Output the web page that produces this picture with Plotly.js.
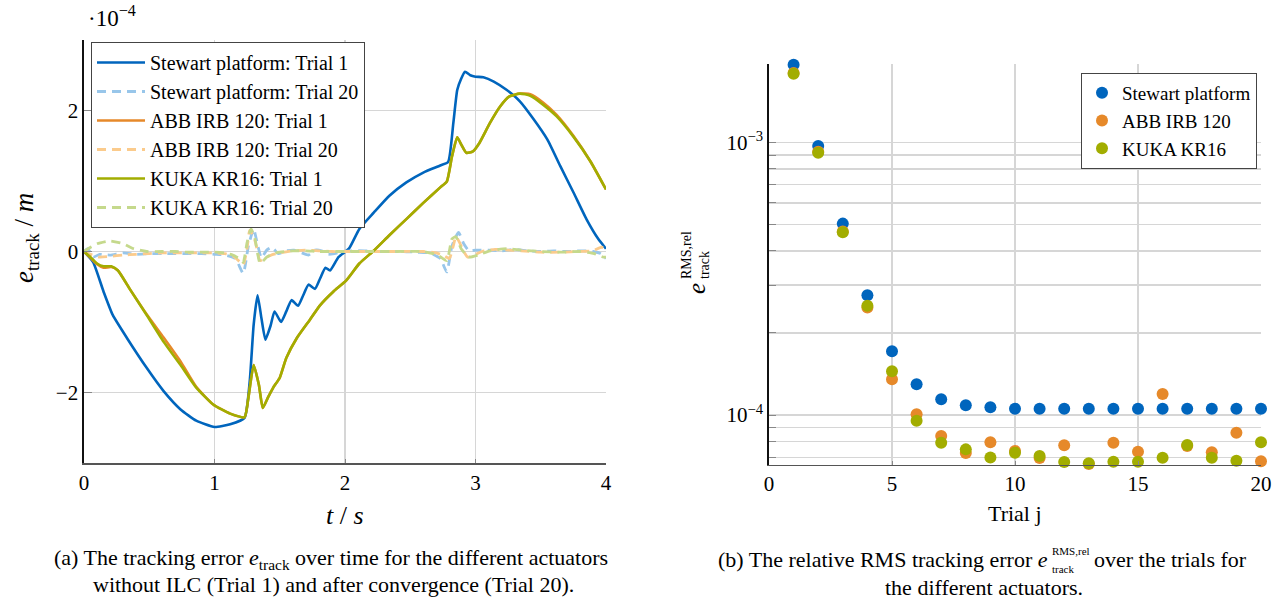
<!DOCTYPE html>
<html>
<head>
<meta charset="utf-8">
<script src="https://cdn.plot.ly/plotly-3.0.1.min.js"></script>
<style>
html,body{margin:0;padding:0;background:#fff;}
#chart{width:1282px;height:607px;}
</style>
</head>
<body>
<div id="chart"></div>
<script>
// ---------- Left panel: tracking error over time (values in 1e-4 m) ----------
const tStewart1 = [0, 0.07, 0.15, 0.22, 0.33, 0.48, 0.61, 0.74, 0.86, 1.0, 1.12, 1.23, 1.27, 1.30, 1.33, 1.36, 1.39, 1.43, 1.46, 1.51, 1.55, 1.59, 1.64, 1.68, 1.72, 1.77, 1.81, 1.85, 1.885, 1.95, 2.03, 2.11, 2.22, 2.34, 2.47, 2.60, 2.73, 2.79, 2.83, 2.86, 2.89, 2.92, 2.96, 3.0, 3.06, 3.14, 3.24, 3.34, 3.44, 3.55, 3.65, 3.75, 3.85, 3.94, 4.0];
const eStewart1 = [0, -0.15, -0.57, -0.90, -1.23, -1.65, -1.98, -2.24, -2.40, -2.49, -2.45, -2.36, -1.84, -1.04, -0.62, -0.95, -1.25, -1.05, -0.85, -1.0, -0.85, -0.69, -0.77, -0.62, -0.47, -0.53, -0.38, -0.23, -0.27, -0.08, 0.04, 0.32, 0.55, 0.79, 0.98, 1.12, 1.22, 1.27, 1.82, 2.29, 2.45, 2.55, 2.50, 2.48, 2.47, 2.41, 2.29, 2.13, 1.89, 1.59, 1.21, 0.84, 0.46, 0.18, 0.04];

const tStewart20 = [0, 0.03, 0.07, 0.12, 0.2, 0.3, 0.4, 0.5, 0.6, 0.7, 0.8, 0.9, 1.0, 1.08, 1.16, 1.22, 1.26, 1.30, 1.32, 1.36, 1.40, 1.44, 1.49, 1.55, 1.61, 1.67, 1.72, 1.77, 1.82, 1.87, 1.92, 1.98, 2.05, 2.15, 2.25, 2.35, 2.45, 2.55, 2.65, 2.73, 2.78, 2.82, 2.87, 2.91, 2.95, 3.0, 3.1, 3.2, 3.3, 3.4, 3.5, 3.6, 3.7, 3.8, 3.9, 3.96, 4.0];
const eStewart20 = [0, 0.04, -0.08, -0.04, -0.05, -0.02, -0.04, -0.03, -0.03, -0.03, -0.03, -0.03, -0.04, -0.05, -0.10, -0.31, 0.08, 0.32, 0.18, -0.09, 0.02, 0.06, -0.03, 0.01, 0.02, -0.02, -0.05, 0.02, 0.01, -0.04, -0.03, 0.0, 0.01, 0.01, 0.0, 0.0, 0.0, -0.01, -0.02, -0.10, -0.29, 0.08, 0.27, 0.11, 0.01, 0.02, 0.02, 0.01, 0.03, 0.01, 0.0, 0.01, 0.0, 0.01, 0.0, -0.03, -0.10];

const tRobot1 = [0, 0.05, 0.10, 0.15, 0.21, 0.26, 0.35, 0.48, 0.61, 0.74, 0.86, 0.99, 1.12, 1.23, 1.26, 1.30, 1.34, 1.37, 1.41, 1.45, 1.50, 1.55, 1.63, 1.73, 1.81, 1.91, 2.01, 2.11, 2.22, 2.34, 2.47, 2.60, 2.73, 2.78, 2.82, 2.86, 2.89, 2.93, 2.98, 3.03, 3.11, 3.19, 3.26, 3.34, 3.42, 3.52, 3.62, 3.75, 3.88, 4.0];
const eAbb1 = [0, -0.09, -0.18, -0.23, -0.22, -0.27, -0.53, -0.89, -1.22, -1.56, -1.92, -2.17, -2.30, -2.35, -2.07, -1.61, -1.89, -2.22, -2.07, -1.93, -1.79, -1.51, -1.23, -0.97, -0.76, -0.57, -0.41, -0.17, 0.01, 0.23, 0.46, 0.69, 0.91, 0.99, 1.35, 1.62, 1.52, 1.40, 1.42, 1.54, 1.82, 2.06, 2.20, 2.24, 2.23, 2.11, 1.94, 1.64, 1.28, 0.88];
const eKuka1 = [0, -0.08, -0.17, -0.21, -0.21, -0.27, -0.53, -0.90, -1.28, -1.61, -1.93, -2.17, -2.30, -2.35, -2.07, -1.61, -1.89, -2.22, -2.07, -1.93, -1.79, -1.51, -1.23, -0.97, -0.76, -0.57, -0.41, -0.17, 0.01, 0.23, 0.46, 0.69, 0.91, 0.99, 1.35, 1.62, 1.52, 1.40, 1.42, 1.54, 1.82, 2.06, 2.20, 2.24, 2.21, 2.08, 1.92, 1.63, 1.28, 0.88];

const tAbb20 = [0, 0.05, 0.12, 0.2, 0.3, 0.4, 0.5, 0.6, 0.7, 0.8, 0.9, 1.0, 1.08, 1.14, 1.19, 1.22, 1.25, 1.27, 1.30, 1.32, 1.35, 1.40, 1.45, 1.5, 1.6, 1.7, 1.8, 1.9, 2.0, 2.2, 2.4, 2.6, 2.7, 2.76, 2.80, 2.83, 2.85, 2.88, 2.91, 2.94, 2.98, 3.05, 3.15, 3.25, 3.35, 3.5, 3.65, 3.8, 3.9, 3.96, 4.0];
const eAbb20 = [0, -0.04, -0.08, -0.07, -0.05, -0.04, -0.03, -0.02, -0.02, -0.02, -0.02, -0.02, -0.03, -0.06, -0.14, -0.19, 0.05, 0.30, 0.22, 0.08, -0.13, -0.08, -0.04, -0.02, 0.01, 0.02, 0.01, 0.0, 0.0, 0.0, 0.0, 0.0, -0.02, -0.06, -0.10, 0.08, 0.21, 0.12, 0.0, -0.08, -0.06, 0.0, 0.03, 0.02, 0.01, -0.01, -0.01, 0.0, 0.01, 0.06, 0.05];

const tKuka20 = [0, 0.05, 0.10, 0.20, 0.30, 0.38, 0.48, 0.6, 0.7, 0.8, 0.9, 1.0, 1.08, 1.14, 1.19, 1.22, 1.25, 1.28, 1.31, 1.35, 1.40, 1.45, 1.5, 1.6, 1.7, 1.8, 1.9, 2.0, 2.2, 2.4, 2.6, 2.71, 2.78, 2.82, 2.85, 2.89, 2.95, 3.02, 3.11, 3.24, 3.35, 3.5, 3.65, 3.8, 3.91, 3.98, 4.0];
const eKuka20 = [0, 0.06, 0.11, 0.15, 0.11, 0.04, 0.0, 0.0, 0.0, -0.01, -0.01, -0.01, -0.02, -0.05, -0.10, -0.15, 0.13, 0.32, 0.18, -0.17, -0.08, -0.03, -0.01, 0.01, 0.01, 0.0, 0.0, 0.0, 0.0, 0.0, 0.0, -0.05, -0.13, 0.18, 0.21, 0.04, -0.08, -0.05, 0.01, 0.04, 0.02, 0.0, -0.01, 0.0, -0.03, -0.08, -0.08];

// ---------- Right panel: relative RMS tracking error over trials ----------
const trials = [1, 2, 3, 4, 5, 6, 7, 8, 9, 10, 11, 12, 13, 14, 15, 16, 17, 18, 19, 20];
const rmsStewart = [1.93e-3, 9.71e-4, 5.04e-4, 2.75e-4, 1.713e-4, 1.296e-4, 1.142e-4, 1.085e-4, 1.067e-4, 1.055e-4, 1.055e-4, 1.055e-4, 1.055e-4, 1.055e-4, 1.055e-4, 1.055e-4, 1.055e-4, 1.055e-4, 1.055e-4, 1.055e-4];
const rmsAbb = [1.80e-3, 9.25e-4, 4.72e-4, 2.48e-4, 1.352e-4, 1.006e-4, 8.38e-5, 7.25e-5, 7.94e-5, 7.38e-5, 6.95e-5, 7.74e-5, 6.61e-5, 7.91e-5, 7.33e-5, 1.194e-4, 7.70e-5, 7.30e-5, 8.61e-5, 6.76e-5];
const rmsKuka = [1.788e-3, 9.17e-4, 4.69e-4, 2.52e-4, 1.447e-4, 9.53e-5, 7.91e-5, 7.48e-5, 6.99e-5, 7.27e-5, 7.07e-5, 6.72e-5, 6.65e-5, 6.74e-5, 6.74e-5, 6.97e-5, 7.76e-5, 6.97e-5, 6.80e-5, 7.94e-5];

const logTickVals = [7e-5, 8e-5, 9e-5, 1e-4, 2e-4, 3e-4, 4e-4, 5e-4, 6e-4, 7e-4, 8e-4, 9e-4, 1e-3];
const logTickText = [' ', ' ', ' ', '10<sup>\u22124</sup>', ' ', ' ', ' ', ' ', ' ', ' ', ' ', ' ', '10<sup>\u22123</sup>'];

const C_BLUE = '#0065BD', C_LBLUE = '#98C6EA';
const C_ORANGE = '#E6892A', C_LORANGE = '#FBCB8C';
const C_OLIVE = '#A2AD00', C_LOLIVE = '#C5D98C';

const W = 1282, H = 607;
const px = x => x / W;
const py = y => 1 - y / H;
const SERIF = 'Liberation Serif, Times New Roman, serif';

const dashT20 = '9px,6px';
const traces = [
  {x: tStewart1, y: eStewart1, name: 'Stewart platform: Trial 1', mode: 'lines', line: {color: C_BLUE, width: 2.6, shape: 'spline', smoothing: 0.5}, xaxis: 'x', yaxis: 'y'},
  {x: tStewart20, y: eStewart20, name: 'Stewart platform: Trial 20', mode: 'lines', line: {color: C_LBLUE, width: 2.8, dash: dashT20, shape: 'spline', smoothing: 0.5}, xaxis: 'x', yaxis: 'y'},
  {x: tRobot1, y: eAbb1, name: 'ABB IRB 120: Trial 1', mode: 'lines', line: {color: C_ORANGE, width: 2.6, shape: 'spline', smoothing: 0.5}, xaxis: 'x', yaxis: 'y'},
  {x: tAbb20, y: eAbb20, name: 'ABB IRB 120: Trial 20', mode: 'lines', line: {color: C_LORANGE, width: 2.8, dash: dashT20, shape: 'spline', smoothing: 0.5}, xaxis: 'x', yaxis: 'y'},
  {x: tRobot1, y: eKuka1, name: 'KUKA KR16: Trial 1', mode: 'lines', line: {color: C_OLIVE, width: 2.6, shape: 'spline', smoothing: 0.5}, xaxis: 'x', yaxis: 'y'},
  {x: tKuka20, y: eKuka20, name: 'KUKA KR16: Trial 20', mode: 'lines', line: {color: C_LOLIVE, width: 2.8, dash: dashT20, shape: 'spline', smoothing: 0.5}, xaxis: 'x', yaxis: 'y'},
  {x: trials, y: rmsStewart, name: 'Stewart platform', mode: 'markers', marker: {color: C_BLUE, size: 12}, xaxis: 'x2', yaxis: 'y2', legend: 'legend2', cliponaxis: false},
  {x: trials, y: rmsAbb, name: 'ABB IRB 120', mode: 'markers', marker: {color: C_ORANGE, size: 12}, xaxis: 'x2', yaxis: 'y2', legend: 'legend2', cliponaxis: false},
  {x: trials, y: rmsKuka, name: 'KUKA KR16', mode: 'markers', marker: {color: C_OLIVE, size: 12}, xaxis: 'x2', yaxis: 'y2', legend: 'legend2', cliponaxis: false}
];

const gridC = '#d6d6d6';
const tickFontL = {family: SERIF, size: 21, color: '#000'};
const tickFontR = {family: SERIF, size: 21, color: '#000'};

function ann(text, x, y, opts) {
  return Object.assign({text: text, x: px(x), y: py(y), xref: 'paper', yref: 'paper', showarrow: false,
    xanchor: 'center', yanchor: 'middle', font: {family: SERIF, size: 22, color: '#000'}}, opts || {});
}

const annotations = [
  ann('\u00b710<sup>\u22124</sup>', 112, 17, {font: {family: SERIF, size: 23, color: '#000'}}),
  ann('<i>e</i><sub>track</sub> / <i>m</i>', 26, 238, {textangle: -90, font: {family: SERIF, size: 27, color: '#000'}}),
  ann('<i>t</i> / <i>s</i>', 345, 515, {font: {family: SERIF, size: 26, color: '#000'}}),
  ann('Trial j', 1015, 513, {font: {family: SERIF, size: 22, color: '#000'}}),
  ann('<i>e</i>', 696, 289, {textangle: -90, font: {family: SERIF, size: 25, color: '#000'}}),
  ann('RMS,rel', 686, 281, {textangle: -90, yanchor: 'bottom', font: {family: SERIF, size: 14, color: '#000'}}),
  ann('track', 704, 281, {textangle: -90, yanchor: 'bottom', font: {family: SERIF, size: 14, color: '#000'}}),
  ann('(a) The tracking error <i>e</i><sub>track</sub> over time for the different actuators', 331, 559),
  ann('without ILC (Trial 1) and after convergence (Trial 20).', 333, 584),
  ann('(b) The relative RMS tracking error <i>e</i>', 1050, 559, {xanchor: 'right'}),
  ann('RMS,rel', 1050, 551, {xanchor: 'left', font: {family: SERIF, size: 11, color: '#000'}}),
  ann('track', 1050, 569, {xanchor: 'left', font: {family: SERIF, size: 11, color: '#000'}}),
  ann('over the trials for', 1092, 559, {xanchor: 'left'}),
  ann('the different actuators.', 984, 587)
];

const layout = {
  width: W, height: H,
  margin: {l: 0, r: 0, t: 0, b: 0},
  paper_bgcolor: '#fff', plot_bgcolor: '#fff',
  showlegend: true,
  xaxis: {domain: [px(84), px(606)], range: [0, 4], anchor: 'y', tickvals: [0, 1, 2, 3, 4],
    showgrid: true, gridcolor: gridC, gridwidth: 1.2, zeroline: false, showline: true, linecolor: '#555', linewidth: 1.6,
    ticks: 'inside', ticklen: 4, tickcolor: '#888', tickfont: tickFontL},
  yaxis: {domain: [py(463), py(40)], range: [-3, 3], anchor: 'x', tickvals: [-2, 0, 2], ticktext: ['\u22122', '0', '2'],
    showgrid: true, gridcolor: gridC, gridwidth: 1.2, zeroline: false, showline: true, linecolor: '#111', linewidth: 1.6,
    ticks: 'inside', ticklen: 8, tickcolor: '#888', tickfont: tickFontL},
  xaxis2: {domain: [px(769), px(1261)], range: [0, 20], anchor: 'y2', tickvals: [0, 5, 10, 15, 20],
    showgrid: true, gridcolor: gridC, gridwidth: 1.2, zeroline: false, showline: true, linecolor: '#555', linewidth: 1.6,
    ticks: 'inside', ticklen: 4, tickcolor: '#888', tickfont: tickFontR},
  yaxis2: {domain: [py(464.6), py(63.8)], type: 'log', range: [-4.182, -2.711], anchor: 'x2',
    tickmode: 'array', tickvals: logTickVals, ticktext: logTickText,
    showgrid: true, gridcolor: gridC, gridwidth: 1.2, zeroline: false, showline: true, linecolor: '#111', linewidth: 1.6,
    ticks: 'inside', ticklen: 7, tickcolor: '#888', tickfont: tickFontR},
  legend: {x: px(91), y: py(42), xanchor: 'left', yanchor: 'top', bgcolor: '#fff', bordercolor: '#444', borderwidth: 1,
    font: {family: SERIF, size: 20, color: '#000'}, itemwidth: 48},
  legend2: {x: px(1257), y: py(73), xanchor: 'right', yanchor: 'top', bgcolor: '#fff', bordercolor: '#444', borderwidth: 1,
    font: {family: SERIF, size: 19, color: '#000'}, itemwidth: 30},
  annotations: annotations
};

Plotly.newPlot('chart', traces, layout, {staticPlot: true, displayModeBar: false});
</script>
</body>
</html>
